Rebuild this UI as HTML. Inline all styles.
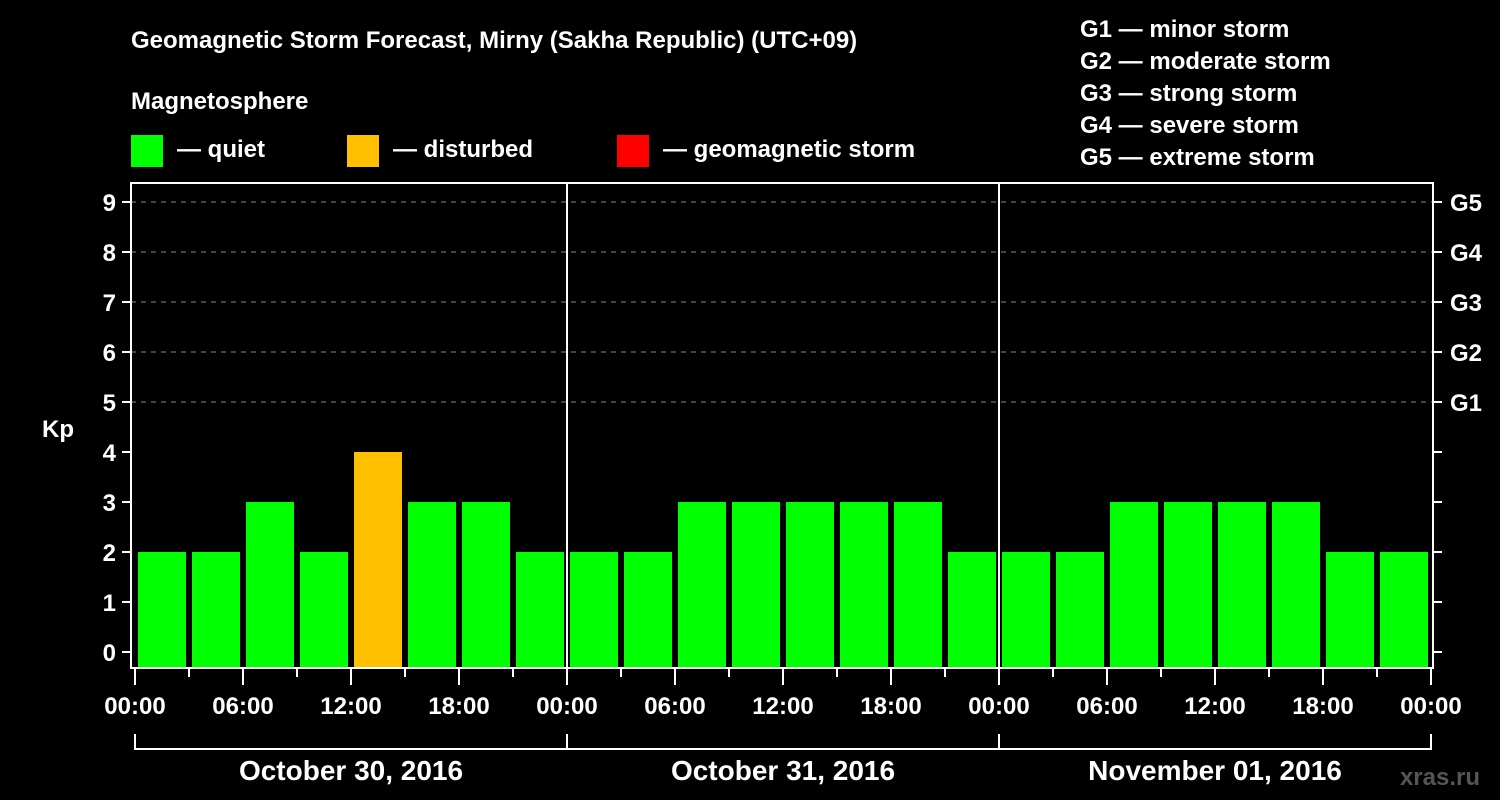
<!DOCTYPE html>
<html><head><meta charset="utf-8"><style>
body{margin:0;background:#000;}
svg{display:block;font-family:"Liberation Sans",sans-serif;font-weight:bold;}
</style></head><body>
<svg id="c" width="1500" height="800" xmlns="http://www.w3.org/2000/svg">
<rect width="1500" height="800" fill="#000"/>
<text x="131" y="48" fill="#fff" font-size="24">Geomagnetic Storm Forecast, Mirny (Sakha Republic) (UTC+09)</text>
<text x="131" y="109" fill="#fff" font-size="24">Magnetosphere</text>
<g><rect x="131" y="135" width="32" height="32" fill="#00ff00"/><text x="177" y="157" fill="#fff" font-size="24">— quiet</text></g>
<g><rect x="347" y="135" width="32" height="32" fill="#ffc000"/><text x="393" y="157" fill="#fff" font-size="24">— disturbed</text></g>
<g><rect x="617" y="135" width="32" height="32" fill="#ff0000"/><text x="663" y="157" fill="#fff" font-size="24">— geomagnetic storm</text></g>
<g fill="#fff" font-size="24">
<text x="1080" y="37">G1 — minor storm</text>
<text x="1080" y="69">G2 — moderate storm</text>
<text x="1080" y="101">G3 — strong storm</text>
<text x="1080" y="133">G4 — severe storm</text>
<text x="1080" y="165">G5 — extreme storm</text>
</g>
<text x="42" y="437" fill="#fff" font-size="24">Kp</text>
<text x="1480" y="785" fill="#555" font-size="24" text-anchor="end">xras.ru</text>
<g id="g"></g>
</svg>
<script>
const kpValues=[2,2,3,2,4,3,3,2, 2,2,3,3,3,3,3,2, 2,2,3,3,3,3,2,2];
const dayLabels=["October 30, 2016","October 31, 2016","November 01, 2016"];
const yTicks=[0,1,2,3,4,5,6,7,8,9];
const gLabels=["G1","G2","G3","G4","G5"];
const hourLabels=["00:00","06:00","12:00","18:00"];
const NS="http://www.w3.org/2000/svg",g=document.getElementById('g');
const X0=135,SLOT=54,L=131,R=1433,T=183,B=668;
const x=i=>X0+i*SLOT;
const y=v=>652-v*50;
function mk(t,a,p){const e=document.createElementNS(NS,t);for(const k in a)e.setAttribute(k,a[k]);(p||g).appendChild(e);return e;}
// grid
for(let v=5;v<=9;v++){const l=mk('line',{x1:L,x2:R,y1:y(v),y2:y(v),stroke:'#888','stroke-dasharray':'5,5'});

}
// bars
kpValues.forEach((v,i)=>{const c=v>=5?'#ff0000':(v>=4?'#ffc000':'#00ff00');
const r=mk('rect',{x:x(i)+3,y:y(v),width:48,height:B-y(v),fill:c});

});
// day separators
for(let d=1;d<dayLabels.length;d++){const l=mk('line',{x1:x(d*8),x2:x(d*8),y1:T,y2:B,stroke:'#fff','stroke-width':2});

}
// frame
const f=mk('rect',{x:L,y:T,width:R-L,height:B-T,fill:'none',stroke:'#fff','stroke-width':2});


// y ticks
yTicks.forEach(v=>{mk('line',{x1:122,x2:L,y1:y(v),y2:y(v),stroke:'#fff','stroke-width':2});
mk('line',{x1:R,x2:1442,y1:y(v),y2:y(v),stroke:'#fff','stroke-width':2});
const t=mk('text',{x:116,y:y(v)+9,fill:'#fff','font-size':24,'text-anchor':'end'});t.textContent=v;

});
gLabels.forEach((s,i)=>{const t=mk('text',{x:1450,y:y(5+i)+9,fill:'#fff','font-size':24});t.textContent=s;

});
// x ticks
for(let i=0;i<=kpValues.length;i++){const major=i%2==0;
mk('line',{x1:x(i),x2:x(i),y1:B,y2:major?685:677,stroke:'#fff','stroke-width':2});
if(major){const t=mk('text',{x:x(i),y:714,fill:'#fff','font-size':24,'text-anchor':'middle'});t.textContent=hourLabels[(i/2)%4];

}}
// day brackets
dayLabels.forEach((s,d)=>{const a=x(d*8),b=x(d*8+8);
mk('path',{d:`M${a} 734V749H${b}V734`,stroke:'#fff','stroke-width':2,fill:'none'});
const t=mk('text',{x:(a+b)/2,y:780,fill:'#fff','font-size':28,'text-anchor':'middle'});t.textContent=s;

});
</script>
</body></html>
